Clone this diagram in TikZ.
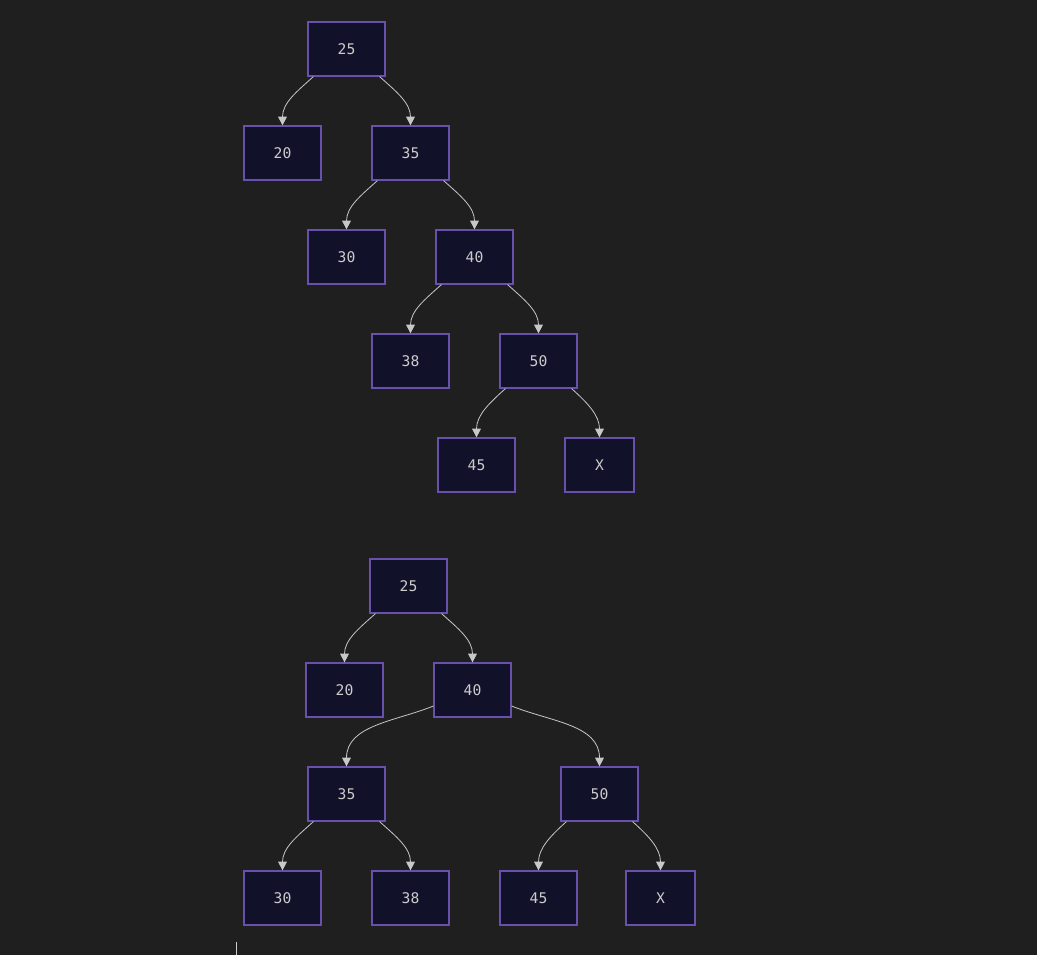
\documentclass[tikz,border=0pt]{standalone}
\usepackage{fontspec}
\setmonofont{DejaVu Sans Mono}
\usetikzlibrary{arrows.meta,calc}
\definecolor{bg}{HTML}{1F1F1F}
\definecolor{nodefill}{HTML}{12112A}
\definecolor{nodeborder}{HTML}{6850AC}
\definecolor{txt}{HTML}{CCCCCC}
\definecolor{edgecol}{HTML}{C8C8C8}
\tikzset{
  tnode/.style={draw=nodeborder, fill=nodefill, line width=0.9pt, minimum width=57.75pt, minimum height=40.5pt, inner sep=0pt, text=txt, font=\ttfamily\fontsize{11}{13}\selectfont},
  xnode/.style={tnode, minimum width=51.75pt},
  edge/.style={draw=edgecol, line width=0.6pt, -{Triangle[length=6.5pt,width=6.5pt]}},
}
\begin{document}
\begin{tikzpicture}[x=0.75pt,y=0.75pt]
\fill[bg] (0,0) rectangle (1037,-955);
\useasboundingbox (0,0) rectangle (1037,-955);
% Tree 1
\node[tnode] (a25) at (346.5,-49) {25};
\node[tnode] (a20) at (282.5,-153) {20};
\node[tnode] (a35) at (410.5,-153) {35};
\node[tnode] (a30) at (346.5,-257) {30};
\node[tnode] (a40) at (474.5,-257) {40};
\node[tnode] (a38) at (410.5,-361) {38};
\node[tnode] (a50) at (538.5,-361) {50};
\node[tnode] (a45) at (476.5,-465) {45};
\node[xnode] (aX) at (599.5,-465) {X};
% Tree 2
\node[tnode] (b25) at (408.5,-586) {25};
\node[tnode] (b20) at (344.5,-690) {20};
\node[tnode] (b40) at (472.5,-690) {40};
\node[tnode] (b35) at (346.5,-794) {35};
\node[tnode] (b50) at (599.5,-794) {50};
\node[tnode] (b30) at (282.5,-898) {30};
\node[tnode] (b38) at (410.5,-898) {38};
\node[tnode] (b45) at (538.5,-898) {45};
\node[xnode] (bX) at (660.5,-898) {X};
% edges tree 1
\foreach \p/\c in {a25/a20,a35/a30,a40/a38,a50/a45}{
  \draw[edge] ($(\p.south west)+(6,0)$) to[out=-138,in=90] (\c.north);
}
\foreach \p/\c in {a25/a35,a35/a40,a40/a50,a50/aX}{
  \draw[edge] ($(\p.south east)+(-6,0)$) to[out=-42,in=90] (\c.north);
}
% edges tree 2
\foreach \p/\c in {b25/b20,b35/b30,b50/b45}{
  \draw[edge] ($(\p.south west)+(6,0)$) to[out=-138,in=90] (\c.north);
}
\foreach \p/\c in {b25/b40,b35/b38,b50/bX}{
  \draw[edge] ($(\p.south east)+(-6,0)$) to[out=-42,in=90] (\c.north);
}
\draw[edge] ($(b40.west)+(0,-16)$) to[out=-158,in=90] (b35.north);
\draw[edge] ($(b40.east)+(0,-16)$) to[out=-22,in=90] (b50.north);
% cursor mark
\coordinate (c1) at (236,-942);
\coordinate (c2) at (236,-955);
\draw[txt, line width=0.75pt] (c1) -- (c2);
\end{tikzpicture}
\end{document}
